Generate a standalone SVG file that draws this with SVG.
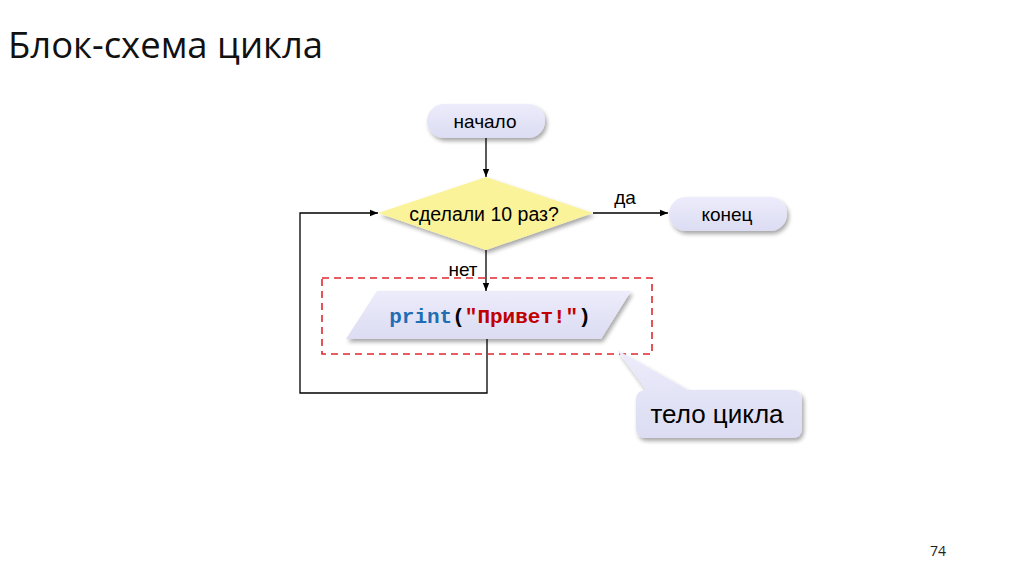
<svg xmlns="http://www.w3.org/2000/svg" width="1024" height="574" viewBox="0 0 1024 574">
<defs>
<marker id="arr" viewBox="0 0 10 10" refX="10" refY="5" markerWidth="10" markerHeight="8" markerUnits="userSpaceOnUse" orient="auto">
<path d="M0,1 L10,5 L0,9 Z" fill="#000"/>
</marker>
<filter id="sh" x="-20%" y="-30%" width="140%" height="170%">
<feGaussianBlur in="SourceAlpha" stdDeviation="2"/>
<feOffset dx="2" dy="3" result="b"/>
<feComponentTransfer><feFuncA type="linear" slope="0.35"/></feComponentTransfer>
<feMerge><feMergeNode/><feMergeNode in="SourceGraphic"/></feMerge>
</filter>
<linearGradient id="lav" x1="0" y1="0" x2="0" y2="1">
<stop offset="0" stop-color="#ececfb"/>
<stop offset="1" stop-color="#dcdcf3"/>
</linearGradient>
</defs>
<style>
.t{font-family:"Liberation Sans",Arial,sans-serif;fill:#000;text-anchor:middle}
.c{stroke:#000;stroke-width:1.3;fill:none}
.term{fill:url(#lav);filter:url(#sh)}
</style>
<rect width="1024" height="574" fill="#fff"/>
<text x="8" y="58" font-family="'Open Sans','Noto Sans',sans-serif" font-size="36" fill="#111" textLength="315" lengthAdjust="spacingAndGlyphs">Блок-схема цикла</text>

<g id="connectors">
<line class="c" x1="486" y1="138" x2="486" y2="177" marker-end="url(#arr)"/>
<line class="c" x1="593" y1="213" x2="668" y2="213" marker-end="url(#arr)"/>
<line class="c" x1="486" y1="250" x2="486" y2="291" marker-end="url(#arr)"/>
<polyline class="c" points="487,339 487,393 300,393 300,213 378,213" marker-end="url(#arr)"/>
<text class="t" x="625" y="204" font-size="19">да</text>
<text class="t" x="463" y="276" font-size="19">нет</text>
</g>

<g id="start">
<rect class="term" x="427" y="104" width="118" height="34" rx="17"/>
<text class="t" x="485" y="128" font-size="19">начало</text>
</g>

<g id="cond">
<polygon points="378,213 486,177 593,213 486,250" fill="#fbf39a" filter="url(#sh)"/>
<text class="t" x="484" y="221" font-size="19.5">сделали 10 раз?</text>
</g>

<g id="end">
<rect class="term" x="669" y="197" width="118" height="34" rx="17"/>
<text class="t" x="727" y="221" font-size="19">конец</text>
</g>

<g id="body">
<rect x="322" y="278" width="330" height="76" fill="none" stroke="#e0282e" stroke-width="1.6" stroke-dasharray="7,5"/>
<polygon points="377,291 631,291 601,339 346,339" fill="url(#lav)" filter="url(#sh)"/>
<text x="490" y="323" text-anchor="middle" font-family="'Liberation Mono','Courier New',monospace" font-weight="bold" font-size="21"><tspan fill="#1f6eb4">print</tspan><tspan fill="#000">(</tspan><tspan fill="#c00000">"Привет!"</tspan><tspan fill="#000">)</tspan></text>
</g>

<g id="callout">
<path d="M646,390 L617,350 L688,390 L792,390 Q802,390 802,400 L802,428 Q802,438 792,438 L646,438 Q636,438 636,428 L636,400 Q636,390 646,390 Z" fill="url(#lav)" filter="url(#sh)"/>
<text class="t" x="717" y="423" font-size="26">тело цикла</text>
</g>

<text x="938" y="556" text-anchor="middle" font-family="'Open Sans','Noto Sans',sans-serif" font-size="14" fill="#222">74</text>
</svg>
